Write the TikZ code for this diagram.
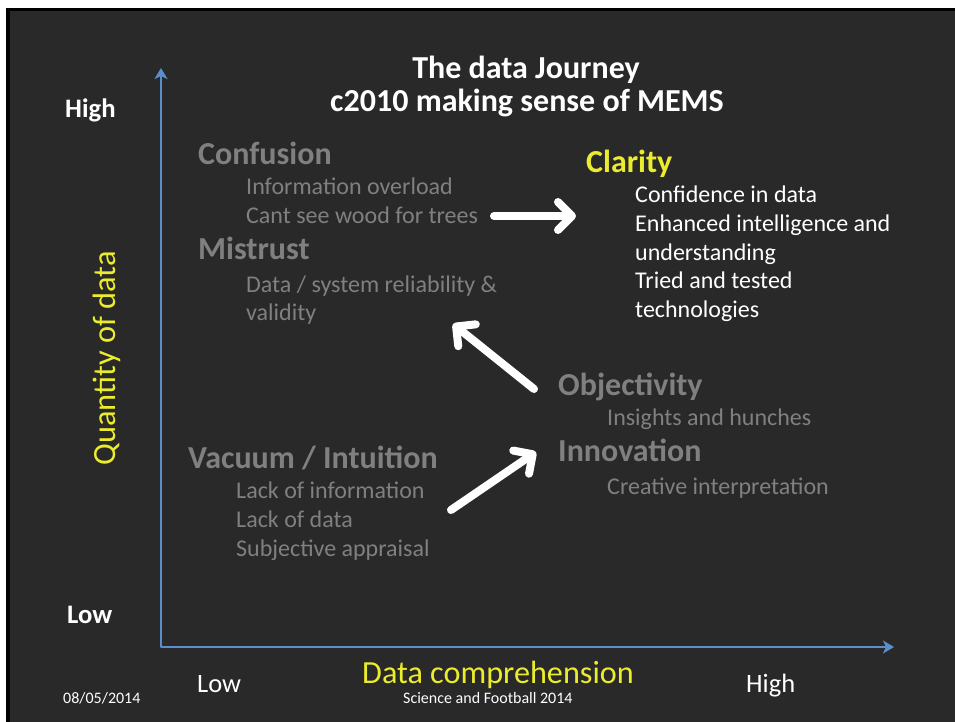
\documentclass[tikz,border=0pt]{standalone}
\usepackage{fontspec}
\setmainfont{Carlito}
\usetikzlibrary{arrows.meta, positioning}
\definecolor{SlideBg}{RGB}{41,41,41}
\definecolor{AxisBlue}{RGB}{91,143,203}
\definecolor{HeadYellow}{RGB}{236,236,46}
\definecolor{MutedGrey}{RGB}{128,128,128}
\tikzstyle{title_text}=[anchor=base, inner sep=0pt, text=white,
        font=\bfseries\fontsize{32}{36}\selectfont]
\tikzstyle{heading}=[anchor=base west, inner sep=0pt,
        font=\bfseries\fontsize{32}{36}\selectfont]
\tikzstyle{item}=[anchor=base west, inner sep=0pt,
        font=\fontsize{24}{28}\selectfont]
\tikzstyle{axis_label}=[anchor=base west, inner sep=0pt, text=white,
        font=\bfseries\fontsize{26.7}{30}\selectfont]
\tikzstyle{footer}=[anchor=base west, inner sep=0pt, text=white,
        font=\fontsize{16}{18}\selectfont]
\tikzstyle{axis_line}=[draw=AxisBlue, line width=2.6pt, line join=round,
        {Stealth[length=11pt,width=13pt,inset=3pt]}-{Stealth[length=11pt,width=13pt,inset=3pt]}]
\tikzstyle{journey_arrow}=[draw=white, line width=8pt, line cap=round,
        -{Straight Barb[length=14pt,width=28pt,line cap=round,line join=round]}]

\begin{document}
\begin{tikzpicture}[x=1pt, y=-1pt]
    % slide
    \fill[white] (0,0) rectangle (955,722);
    \fill[black] (6,8) rectangle (955,722);
    \fill[SlideBg] (10,11) rectangle (955,722);

    % axes
    \coordinate (origin) at (161,647);
    \coordinate (ytop) at (161,68);
    \coordinate (xend) at (894,647);
    \draw[axis_line] (ytop) -- (origin) -- (xend);

    \node[axis_label] (yhigh) at (65,118) {High};
    \node[axis_label] (ylow) at (67,623) {Low};
    \node[axis_label, font=\fontsize{26.5}{30}\selectfont] (xlow) at (197,692) {Low};
    \node[axis_label, font=\fontsize{26.5}{30}\selectfont] (xhigh) at (746,692) {High};
    \node[anchor=base west, inner sep=0pt, rotate=90, text=HeadYellow,
          font=\fontsize{32.4}{36}\selectfont] (yname) at (115,466) {Quantity of data};
    \node[anchor=base, inner sep=0pt, text=HeadYellow,
          font=\fontsize{32.2}{36}\selectfont] (xname) at (498,683) {Data comprehension};

    % title
    \node[title_text] (title1) at (526,79) {The data Journey};
    \node[title_text] (title2) at (527,112) {c2010 making sense of MEMS};

    % confusion / mistrust
    \node[heading, text=MutedGrey] (confusion) at (198,165) {Confusion};
    \node[item, text=MutedGrey] (conf1) at (246,194) {Information overload};
    \node[item, text=MutedGrey] (conf2) at (246,223) {Cant see wood for trees};
    \node[heading, text=MutedGrey] (mistrust) at (198,259) {Mistrust};
    \node[item, text=MutedGrey] (mist1) at (246,292) {Data / system reliability \&};
    \node[item, text=MutedGrey] (mist2) at (246,320) {validity};

    % clarity
    \node[heading, text=HeadYellow] (clarity) at (586,173) {Clarity};
    \foreach \txt [count=\i] in {Confidence in data, Enhanced intelligence and,
            understanding, Tried and tested, technologies} {
        \node[item, text=white] (clar\i) at (635, 174 + 28.7 * \i) {\txt};
    }

    % objectivity / innovation
    \node[heading, text=MutedGrey] (objectivity) at (558,395) {Objectivity};
    \node[item, text=MutedGrey] (obj1) at (607,425) {Insights and hunches};
    \node[heading, text=MutedGrey] (innovation) at (558,461) {Innovation};
    \node[item, text=MutedGrey] (inno1) at (607,494) {Creative interpretation};

    % vacuum
    \node[heading, text=MutedGrey] (vacuum) at (188,468) {Vacuum / Intuition};
    \foreach \txt [count=\i] in {Lack of information, Lack of data, Subjective appraisal} {
        \node[item, text=MutedGrey] (vac\i) at (236, 469 + 29 * \i) {\txt};
    }

    % footer
    \node[footer] (date) at (63,703) {08/05/2014};
    \node[footer] (event) at (403,703) {Science and Football 2014};

    % journey arrows
    \coordinate (a1s) at (494,216);
    \coordinate (a1e) at (576,216);
    \coordinate (a2s) at (534,389);
    \coordinate (a2e) at (453,324);
    \coordinate (a3s) at (451,510);
    \coordinate (a3e) at (536,452);
    \draw[journey_arrow] (a1s) -- (a1e);
    \draw[journey_arrow] (a2s) -- (a2e);
    \draw[journey_arrow] (a3s) -- (a3e);

\end{tikzpicture}
\end{document}
